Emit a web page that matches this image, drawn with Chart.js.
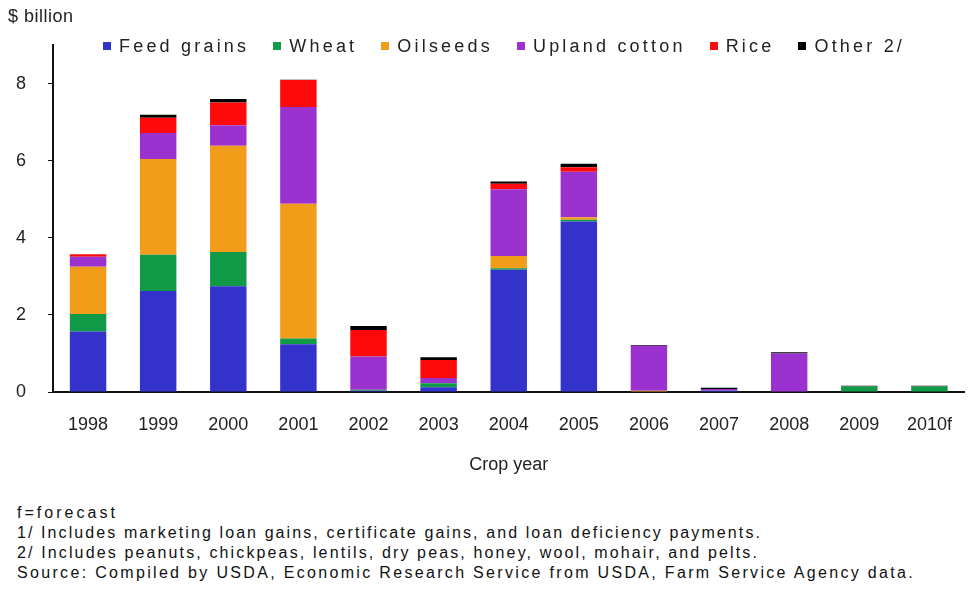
<!DOCTYPE html>
<html>
<head>
<meta charset="utf-8">
<script src="https://cdn.jsdelivr.net/npm/chart.js@4/dist/chart.umd.min.js"></script>
<style>
  body { margin: 0; background: #fff; font-family: "Liberation Sans", Arial, sans-serif; }
  #wrap { position: relative; width: 974px; height: 594px; overflow: hidden; }
  #chart { position: absolute; left: 0; top: 0; }
  #unit { position: absolute; left: 8px; top: 6px; font-size: 18px; color: #222; letter-spacing: 0.5px; }
  #legend { position: absolute; left: 103px; top: 36px; display: flex; gap: 24px; font-size: 18px; color: #222; letter-spacing: 3.2px; }
  #legend span.sw { display: inline-block; width: 8px; height: 8px; margin-right: 8px; vertical-align: 2px; }
  .note { position: absolute; left: 17px; font-family: "Liberation Sans Narrow", "Liberation Sans", Arial, sans-serif; font-size: 16px; color: #111; white-space: nowrap; }
</style>
</head>
<body>
<div id="wrap">
  <canvas id="chart" width="974" height="480"></canvas>
  <div id="unit">$ billion</div>
  <div id="legend"></div>
  <div class="note" style="top:504px" data-w="101">f=forecast</div>
  <div class="note" style="top:524px" data-w="745">1/ Includes marketing loan gains, certificate gains, and loan deficiency payments.</div>
  <div class="note" style="top:544px" data-w="742">2/ Includes peanuts, chickpeas, lentils, dry peas, honey, wool, mohair, and pelts.</div>
  <div class="note" style="top:564px" data-w="898">Source: Compiled by USDA, Economic Research Service from USDA, Farm Service Agency data.</div>
</div>
<script>
const years = ["1998", "1999", "2000", "2001", "2002", "2003", "2004", "2005", "2006", "2007", "2008", "2009", "2010f"];
const feedGrains   = [1.57, 2.62, 2.74, 1.24, 0.03, 0.12, 3.17, 4.42, 0.00, 0.04, 0.00, 0.00, 0.00];
const wheat        = [0.45, 0.94, 0.89, 0.15, 0.03, 0.11, 0.04, 0.05, 0.00, 0.00, 0.00, 0.14, 0.14];
const oilseeds     = [1.23, 2.48, 2.76, 3.49, 0.00, 0.00, 0.32, 0.06, 0.03, 0.00, 0.00, 0.00, 0.00];
const uplandCotton = [0.26, 0.68, 0.53, 2.51, 0.86, 0.13, 1.73, 1.18, 1.17, 0.04, 1.00, 0.00, 0.00];
const rice         = [0.06, 0.39, 0.59, 0.70, 0.69, 0.47, 0.14, 0.12, 0.00, 0.00, 0.00, 0.00, 0.00];
const other2       = [0.00, 0.08, 0.09, 0.01, 0.10, 0.07, 0.06, 0.09, 0.02, 0.03, 0.03, 0.02, 0.02];

const seriesNames = ["Feed grains", "Wheat", "Oilseeds", "Upland cotton", "Rice", "Other 2/"];
const seriesData = [feedGrains, wheat, oilseeds, uplandCotton, rice, other2];
const colors = ["#3333cc", "#109a48", "#f29d1a", "#9b32d0", "#ff0a0a", "#000000"];

const $ = id => document.getElementById(id);

const datasets = seriesNames.map((name, i) => ({
  label: name,
  data: seriesData[i],
  backgroundColor: colors[i],
  borderWidth: 0,
  categoryPercentage: 1,
  barPercentage: 0.52
}));

// html legend, built from the datasets
datasets.forEach(d => {
  const item = document.createElement("div");
  item.innerHTML = `<span class="sw" style="background:${d.backgroundColor}"></span>${d.label}`;
  $("legend").appendChild(item);
});

const font = { family: "'Liberation Sans', Arial, sans-serif", size: 18 };

new Chart($("chart"), {
  type: "bar",
  data: { labels: years, datasets },
  options: {
    responsive: false,
    animation: false,
    layout: { padding: { left: 0, right: 2, top: 45, bottom: 0 } },
    plugins: { legend: { display: false }, tooltip: { enabled: false } },
    scales: {
      x: {
        stacked: true,
        grid: { display: false, drawTicks: false },
        border: { display: true, color: "#111", width: 2 },
        ticks: { color: "#222", font, padding: 22 },
        title: { display: true, text: "Crop year", color: "#222", font, padding: { top: 13 } },
        afterFit: s => { s.height = 88; }
      },
      y: {
        stacked: true,
        min: 0,
        max: 9,
        afterBuildTicks: s => { s.ticks = [0, 2, 4, 6, 8].map(v => ({ value: v })); },
        grid: { drawOnChartArea: false, drawTicks: true, tickLength: 5, color: "#111" },
        border: { display: true, color: "#111", width: 2 },
        ticks: { color: "#222", font, padding: 22 },
        afterFit: s => { s.width = 53; }
      }
    }
  }
});

// spread the footnote text to the widths of the source picture
document.querySelectorAll(".note").forEach(n => {
  const target = Number(n.dataset.w);
  const natural = n.getBoundingClientRect().width;
  const chars = n.textContent.length;
  n.style.letterSpacing = ((target - natural) / chars) + "px";
});
</script>
</body>
</html>
